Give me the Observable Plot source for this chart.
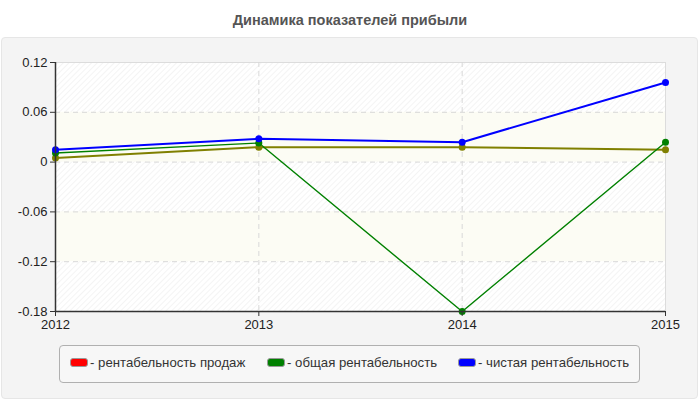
<!DOCTYPE html>
<html>
<head>
<meta charset="utf-8">
<script src="https://cdn.jsdelivr.net/npm/d3@7"></script>
<script src="https://cdn.jsdelivr.net/npm/@observablehq/plot@0.6"></script>
<style>
  html, body { margin: 0; padding: 0; background: #fff; }
  #wrap { position: relative; width: 700px; height: 400px; overflow: hidden; font-family: "Liberation Sans", Arial, sans-serif; }
  #title { position: absolute; left: 0; top: 12px; width: 700px; text-align: center; font-weight: bold; font-size: 14.5px; color: #555; }
  #panel { position: absolute; left: 1px; top: 37px; width: 695px; height: 360px; background: #f4f4f4; border: 1px solid #e6e6e6; border-radius: 4px; }
  #chart { position: absolute; left: 0; top: 0; }
  #legend { position: absolute; left: 59px; top: 345px; width: 581px; height: 38px; border: 1px solid #b0b0b0; border-radius: 4px; background: #f7f7f7; box-sizing: border-box; }
  .item { position: absolute; top: 9px; font-size: 13.2px; color: #333; line-height: 15px; white-space: nowrap; }
  .sw { display: inline-block; width: 18px; height: 9px; border-radius: 3px; margin-right: 2px; vertical-align: 0px; box-sizing: border-box; border: 1px solid #999; }
</style>
</head>
<body>
<div id="wrap">
  <div id="title">Динамика показателей прибыли</div>
  <div id="panel"></div>
  <div id="chart"></div>
  <div id="legend"></div>
</div>
<script>
const years = [2012, 2013, 2014, 2015];
const seriesNames = ["рентабельность продаж", "общая рентабельность", "чистая рентабельность"];
const legendColors = ["#ff0000", "#008000", "#0000ff"];
const lineColors = ["#808000", "#008000", "#0000ff"];
const salesProfitability = [0.005, 0.018, 0.018, 0.015];
const totalProfitability = [0.011, 0.023, -0.18, 0.024];
const netProfitability = [0.015, 0.028, 0.024, 0.096];
const yTicks = [0.12, 0.06, 0, -0.06, -0.12, -0.18];
const bands = [[0, 0.06], [-0.12, -0.06]];

const seriesValues = [salesProfitability, totalProfitability, netProfitability];
const table = seriesValues.map((vals, i) => years.map((yr, j) => ({ year: yr, value: vals[j], series: seriesNames[i] })));

const marks = [
  Plot.frame({ fill: "url(#hatch)", stroke: "#dcdcdc" }),
  Plot.rect(bands, { x1: 2012, x2: 2015, y1: d => d[0], y2: d => d[1], fill: "#fcfcf4" }),
  Plot.ruleY(yTicks.filter(t => t > -0.18 && t < 0.12), { stroke: "#d8d8d8", strokeDasharray: "5,4", strokeWidth: 1 }),
  Plot.ruleX(years.filter(y => y > 2012 && y < 2015), { stroke: "#d8d8d8", strokeDasharray: "5,4", strokeWidth: 1 }),
];
table.forEach((rows, i) => {
  marks.push(Plot.line(rows, { x: "year", y: "value", stroke: lineColors[i], strokeWidth: i === 1 ? 1.4 : 2 }));
});
table.forEach((rows, i) => {
  marks.push(Plot.dot(rows, { x: "year", y: "value", fill: lineColors[i], r: 3.5 }));
});
marks.push(
  Plot.ruleY([-0.18], { stroke: "#333", strokeWidth: 1.5 }),
  Plot.ruleX([2012], { stroke: "#333", strokeWidth: 1.5 }),
  Plot.axisX({ ticks: years, tickFormat: d => String(d), tickSize: 5, stroke: "#333", fontSize: 13, tickPadding: 3, color: "#222", label: null }),
  Plot.axisY({ ticks: yTicks, tickFormat: d => String(d), tickSize: 5, stroke: "#333", fontSize: 13, tickPadding: 3, color: "#222", label: null })
);

const svg = Plot.plot({
  width: 700,
  height: 340,
  marginTop: 62,
  marginBottom: 29,
  marginLeft: 55,
  marginRight: 35,
  style: { background: "transparent", fontFamily: "'Liberation Sans', Arial, sans-serif", fontSize: "13px", color: "#222" },
  x: { domain: [2012, 2015], label: null },
  y: { domain: [-0.18, 0.12], label: null },
  marks
});

const ns = "http://www.w3.org/2000/svg";
const defs = document.createElementNS(ns, "defs");
const pat = document.createElementNS(ns, "pattern");
pat.setAttribute("id", "hatch");
pat.setAttribute("patternUnits", "userSpaceOnUse");
pat.setAttribute("width", "4");
pat.setAttribute("height", "4");
pat.setAttribute("patternTransform", "rotate(45)");
const bg = document.createElementNS(ns, "rect");
bg.setAttribute("width", "4"); bg.setAttribute("height", "4"); bg.setAttribute("fill", "#ffffff");
const ln = document.createElementNS(ns, "line");
ln.setAttribute("x1", "0"); ln.setAttribute("y1", "0"); ln.setAttribute("x2", "0"); ln.setAttribute("y2", "4");
ln.setAttribute("stroke", "#f1f1f1"); ln.setAttribute("stroke-width", "1.5");
pat.appendChild(bg); pat.appendChild(ln); defs.appendChild(pat);
svg.insertBefore(defs, svg.firstChild);
document.getElementById("chart").appendChild(svg);

const legend = document.getElementById("legend");
const lefts = [10, 207, 398];
seriesNames.forEach((name, i) => {
  const it = document.createElement("div");
  it.className = "item";
  it.style.left = lefts[i] + "px";
  const sw = document.createElement("span");
  sw.className = "sw";
  sw.style.background = legendColors[i];
  it.appendChild(sw);
  it.appendChild(document.createTextNode("- " + name));
  legend.appendChild(it);
});
</script>
</body>
</html>
